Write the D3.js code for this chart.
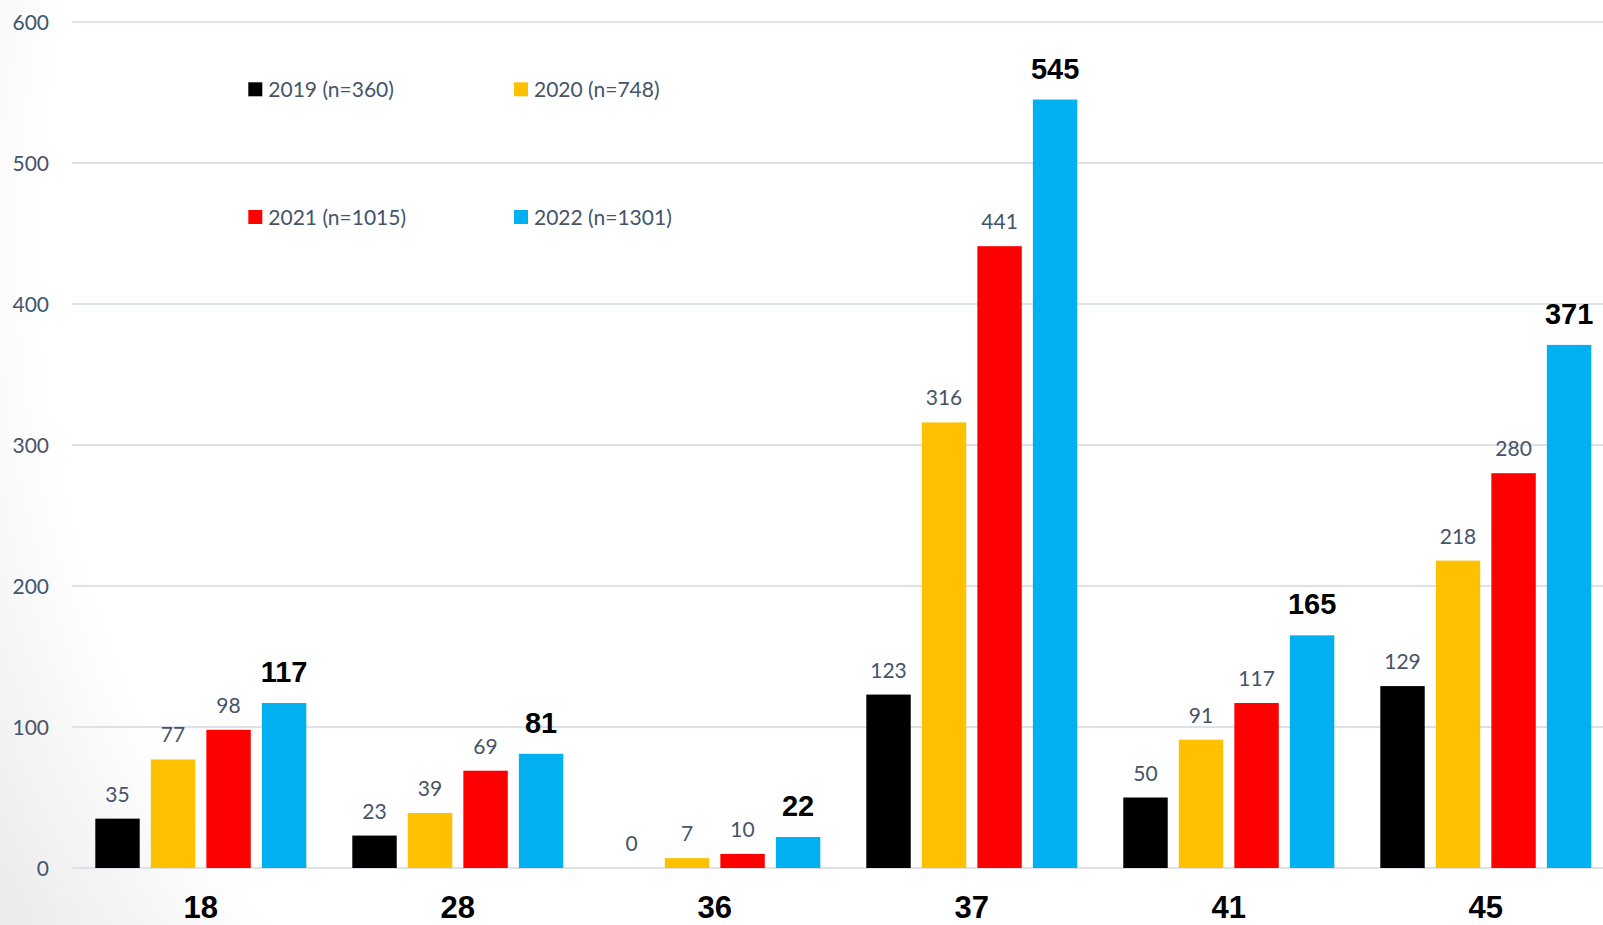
<!DOCTYPE html>
<html>
<head>
<meta charset="utf-8">
<script src="https://cdn.jsdelivr.net/npm/d3@7"></script>
<style>
  html, body { margin: 0; padding: 0; background: #fff; overflow: hidden; }
</style>
</head>
<body>
<div id="chart"></div>
<script>
// data
const categories = ['18', '28', '36', '37', '41', '45'];
const seriesNames = ['2019 (n=360)', '2020 (n=748)', '2021 (n=1015)', '2022 (n=1301)'];
const v2019 = [35, 23, 0, 123, 50, 129];
const v2020 = [77, 39, 7, 316, 91, 218];
const v2021 = [98, 69, 10, 441, 117, 280];
const v2022 = [117, 81, 22, 545, 165, 371];
const yTicks = [0, 100, 200, 300, 400, 500, 600];

const COLORS = ['#000000', '#FFC000', '#FF0000', '#00B0F0'];
const WIDTH = 1603;
const HEIGHT = 925;
const TEXT = '#44546A';
const LABEL_FONT = 'Lato, "Open Sans", sans-serif';
const BOLD_FONT = '"Liberation Sans", Arial, sans-serif';

const seriesValues = [v2019, v2020, v2021, v2022];

const svg = d3.select('#chart')
   .append('svg')
   .attr('width', WIDTH)
   .attr('height', HEIGHT);

// soft grey shading on the left edge of the slide
const grad = svg.append('defs').append('radialGradient')
   .attr('id', 'bg')
   .attr('gradientUnits', 'userSpaceOnUse')
   .attr('cx', 1150).attr('cy', 250).attr('r', 1320);
grad.append('stop').attr('offset', 0.84).attr('stop-color', '#ffffff');
grad.append('stop').attr('offset', 1).attr('stop-color', '#ebebeb');

svg.append('rect')
   .attr('width', WIDTH)
   .attr('height', HEIGHT)
   .attr('fill', 'url(#bg)');

const y = d3.scaleLinear()
   .domain([0, 600])
   .range([868, 22]);

const x0 = d3.scaleBand()
   .domain(categories)
   .range([72.3, 72.3 + 257 * categories.length]);

const x1 = d3.scaleBand()
   .domain(seriesNames)
   .range([23, 234])
   .paddingInner(0.2);

// gridlines
svg.append('g')
   .selectAll('line')
   .data(yTicks)
   .enter()
   .append('line')
   .attr('x1', 72)
   .attr('x2', WIDTH)
   .attr('y1', d => y(d))
   .attr('y2', d => y(d))
   .attr('stroke', '#dde2e9')
   .attr('stroke-width', 2);

// y axis labels
svg.append('g')
   .selectAll('text')
   .data(yTicks)
   .enter()
   .append('text')
   .attr('x', 49)
   .attr('y', d => y(d) + 7.5)
   .attr('text-anchor', 'end')
   .attr('font-family', LABEL_FONT)
   .attr('font-size', 21)
   .attr('fill', TEXT)
   .text(d => d);

// bars
const groups = svg.append('g')
   .selectAll('g')
   .data(categories)
   .enter()
   .append('g')
   .attr('transform', d => `translate(${x0(d)},0)`);

const rowData = (c, i) => seriesNames.map((s, j) => ({ series: s, idx: j, value: seriesValues[j][i] }));

groups.selectAll('rect')
   .data(rowData)
   .enter()
   .append('rect')
   .attr('x', d => x1(d.series))
   .attr('y', d => y(d.value))
   .attr('width', x1.bandwidth())
   .attr('height', d => y(0) - y(d.value))
   .attr('fill', d => COLORS[d.idx]);

// value labels (last series in big bold black)
groups.selectAll('text.val')
   .data(rowData)
   .enter()
   .append('text')
   .attr('class', 'val')
   .attr('x', d => x1(d.series) + x1.bandwidth() / 2)
   .attr('y', d => y(d.value) - (d.idx === 3 ? 21 : 17))
   .attr('text-anchor', 'middle')
   .attr('font-family', d => d.idx === 3 ? BOLD_FONT : LABEL_FONT)
   .attr('font-weight', d => d.idx === 3 ? 'bold' : 'normal')
   .attr('font-size', d => d.idx === 3 ? 29 : 21)
   .attr('fill', d => d.idx === 3 ? '#000' : TEXT)
   .text(d => d.value);

// category labels
svg.append('g')
   .selectAll('text')
   .data(categories)
   .enter()
   .append('text')
   .attr('x', d => x0(d) + x0.bandwidth() / 2)
   .attr('y', 918)
   .attr('text-anchor', 'middle')
   .attr('font-family', BOLD_FONT)
   .attr('font-weight', 'bold')
   .attr('font-size', 31)
   .attr('fill', '#000')
   .text(d => d);

// legend (2 x 2)
const legendPos = [[248.3, 82.3], [514, 82.3], [248.3, 210], [514, 210]];
const legend = svg.append('g')
   .selectAll('g')
   .data(seriesNames)
   .enter()
   .append('g')
   .attr('transform', (d, i) => `translate(${legendPos[i][0]},${legendPos[i][1]})`);

legend.append('rect')
   .attr('width', 14)
   .attr('height', 14)
   .attr('fill', (d, i) => COLORS[i]);

legend.append('text')
   .attr('x', 20)
   .attr('y', 14.5)
   .attr('font-family', LABEL_FONT)
   .attr('font-size', 21)
   .attr('fill', TEXT)
   .text(d => d);
</script>
</body>
</html>
